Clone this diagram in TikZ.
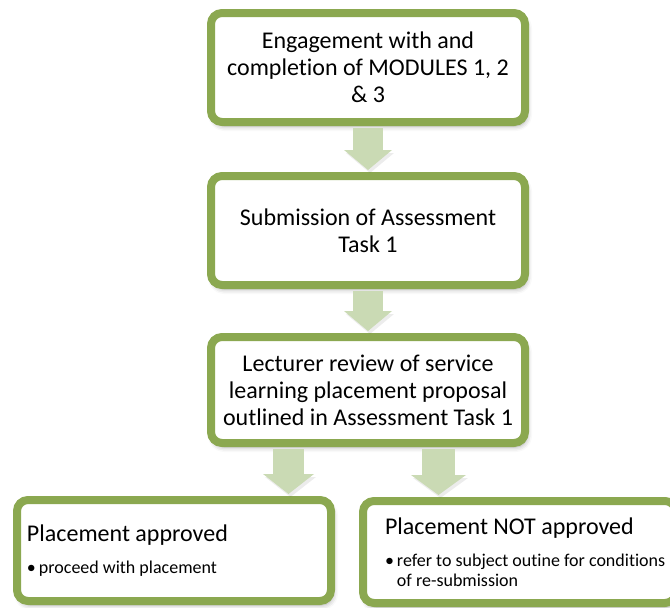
\documentclass[tikz,border=0pt]{standalone}
\usepackage{fontspec}
\setmainfont{Carlito}[Ligatures=NoCommon]
\usetikzlibrary{arrows.meta,positioning,calc,shadows.blur}

\definecolor{boxgreen}{RGB}{139,168,80}
\definecolor{arrowgreen}{RGB}{202,218,180}

\newcommand{\headline}[1]{{\fontsize{24}{27}\selectfont #1}}
\newcommand{\bulletline}[1]{\mbox{\textbullet\,#1}}
\newcommand{\hangline}[1]{\mbox{\hphantom{\textbullet\,}#1}}

\tikzset{
  stepbox/.style={draw=boxgreen, line width=8pt, fill=white, rounded corners=11pt,
    minimum width=314pt, minimum height=109pt, text width=300pt, inner xsep=4pt,
    align=flush center, font=\fontsize{24}{27}\selectfont,
    blur shadow={shadow xshift=2pt, shadow yshift=-4pt, shadow blur radius=5pt, shadow opacity=35}},
  outcomebox/.style={stepbox, align=flush left, minimum height=101pt,
    font=\fontsize{18}{20}\selectfont},
  flowarrow/.style 2 args={draw=arrowgreen, line width=#1,
    -{Triangle[width=#2, length=20pt, line width=0pt]},
    shorten <=2pt, shorten >=2pt,
    preaction={draw=black!60, opacity=0.12, transform canvas={xshift=2pt, yshift=-3pt}}}
}

\begin{document}
\begin{tikzpicture}
  \useasboundingbox (0pt,0pt) rectangle (670pt,-608pt);

  \node[stepbox] (engage) at (368pt,-67.5pt) {Engagement with and\\completion of MODULES 1, 2\\\& 3};
  \node[stepbox] (submit) [below=46pt of engage] {Submission of Assessment\\Task 1};
  \node[stepbox, minimum height=106pt] (review) [below=44pt of submit]
    {Lecturer review of service\\learning placement proposal\\outlined in Assessment Task 1};

  \node[outcomebox, text width=294pt] (approved) at (174pt,-550.5pt)
    {\headline{Placement approved}\\[12pt]
     \bulletline{proceed with placement}};
  \node[outcomebox, text width=269pt, minimum width=313pt, minimum height=102pt] (declined) at (519.5pt,-552pt)
    {\headline{Placement NOT approved}\\[12pt]
     \bulletline{refer to subject outine for conditions}\\
     \hangline{of re-submission}};

  \coordinate (yes) at ([xshift=-79.5pt]review.south);
  \coordinate (no) at ([xshift=70.5pt]review.south);

  \draw[flowarrow={30pt}{48pt}] (engage.south) -- (submit.north);
  \draw[flowarrow={30pt}{48pt}] (submit.south) -- (review.north);
  \draw[flowarrow={31pt}{51pt}] (yes) -- (yes |- approved.north);
  \draw[flowarrow={33pt}{55pt}] (no) -- (no |- declined.north);
\end{tikzpicture}
\end{document}
